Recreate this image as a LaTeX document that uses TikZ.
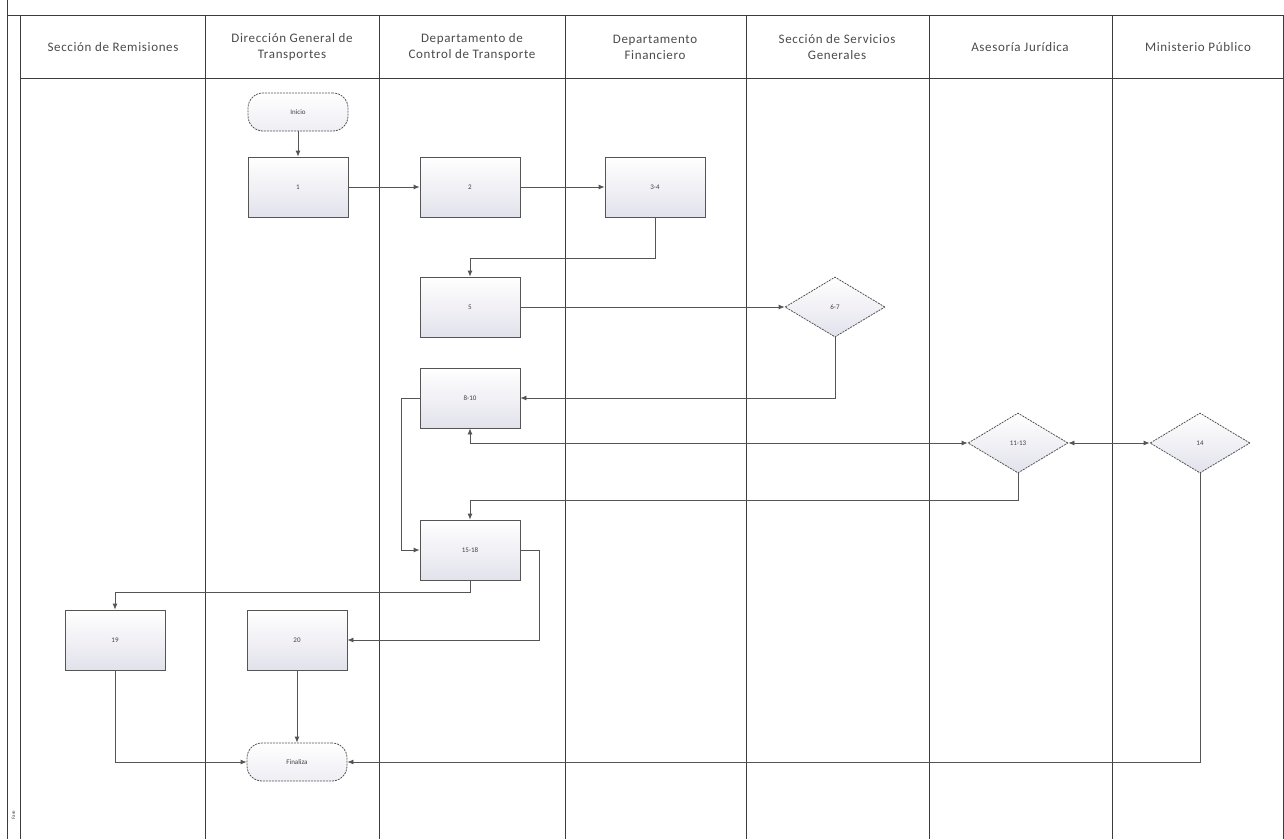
\documentclass[tikz,border=0pt]{standalone}
\usepackage{fontspec}
\setmainfont{Carlito}
\newfontfamily\hdrfont[LetterSpace=5]{Carlito}
\usetikzlibrary{shapes.geometric,arrows.meta}
\definecolor{lanecol}{RGB}{60,60,60}
\definecolor{boxline}{RGB}{85,85,85}
\definecolor{boxbot}{RGB}{226,226,236}
\definecolor{txtcol}{RGB}{75,75,75}
\begin{document}
\begin{tikzpicture}[x=1pt,y=-1pt,
  lane/.style={draw=lanecol,line width=0.9pt},
  hdr/.style={align=center,font=\hdrfont\fontsize{13}{16}\selectfont,text=txtcol},
  proc/.style={draw=boxline,line width=0.8pt,top color=white,bottom color=boxbot,minimum width=100pt,minimum height=60pt,inner sep=0pt,font=\fontsize{7}{8}\selectfont,text=black!75},
  term/.style={draw=boxline,line width=0.8pt,dashed,dash pattern=on 2pt off 1pt,rounded corners=15pt,top color=white,bottom color=boxbot!60,minimum width=100pt,minimum height=38pt,inner sep=0pt,font=\fontsize{7}{8}\selectfont,text=black!75},
  dec/.style={draw=boxline,line width=0.8pt,dashed,dash pattern=on 2pt off 1pt,diamond,top color=white,bottom color=boxbot,minimum width=100pt,minimum height=60pt,inner sep=0pt,font=\fontsize{7}{8}\selectfont,text=black!75},
  conn/.style={draw=boxline,line width=0.8pt,-{Latex[length=6pt,width=5pt]}},
  conn2/.style={draw=boxline,line width=0.8pt,{Latex[length=6pt,width=5pt]}-{Latex[length=6pt,width=5pt]}}
]
\useasboundingbox (0,0) rectangle (1284,839);
\fill[white] (0,0) rectangle (1284,839);
% frame and lanes
\draw[lane] (7,0) -- (7,839);
\draw[lane] (20,15) -- (20,839);
\draw[lane] (7,15) -- (1284,15);
\draw[lane] (20,78) -- (1284,78);
\foreach \xx in {205,379,565,746,929,1112} \draw[lane] (\xx,15) -- (\xx,839);
\draw[lane] (1283,15) -- (1283,839);
\node[rotate=90,font=\fontsize{5}{6}\selectfont,text=txtcol] (fase) at (13.5,815) {Fase};
% headers
\node[hdr] (h1) at (113,47) {Sección de Remisiones};
\node[hdr] (h2) at (292,47) {Dirección General de\\Transportes};
\node[hdr] (h3) at (472,47) {Departamento de\\Control de Transporte};
\node[hdr] (h4) at (655,47) {Departamento\\Financiero};
\node[hdr] (h5) at (837,47) {Sección de Servicios\\Generales};
\node[hdr] (h6) at (1020,47) {Asesoría Jurídica};
\node[hdr] (h7) at (1198,47) {Ministerio Público};
% nodes
\node[term] (ini) at (298,112) {Inicio};
\node[proc] (n1) at (298,187) {1};
\node[proc] (n2) at (470,187) {2};
\node[proc] (n34) at (655,187) {3-4};
\node[proc] (n5) at (470,307) {5};
\node[dec] (n67) at (835,307) {6-7};
\node[proc] (n810) at (470,398) {8-10};
\node[dec] (n1113) at (1018,443) {11-13};
\node[dec] (n14) at (1200,443) {14};
\node[proc] (n1518) at (470,550) {15-18};
\node[proc] (n19) at (115,640) {19};
\node[proc] (n20) at (297,640) {20};
\node[term] (fin) at (297,762) {Finaliza};
% connectors
\draw[conn] (ini) -- (n1);
\draw[conn] (n1) -- (n2);
\draw[conn] (n2) -- (n34);
\draw[conn] (n34.south) -- ++(0,41) -| (n5.north);
\draw[conn] (n5) -- (n67);
\draw[conn] (n67.south) |- (n810.east);
\draw[conn2] (n810.south) |- (n1113.west);
\draw[conn2] (n1113.east) -- (n14.west);
\draw[conn] (n1113.south) -- ++(0,27) -| (n1518.north);
\draw[conn] (n810.west) -- ++(-18,0) |- (n1518.west);
\draw[conn] (n1518.south) -- ++(0,12) -| (n19.north);
\draw[conn] (n1518.east) -- ++(19,0) |- (n20.east);
\draw[conn] (n20) -- (fin);
\draw[conn] (n19.south) |- (fin.west);
\draw[conn] (n14.south) |- (fin.east);
\end{tikzpicture}
\end{document}
